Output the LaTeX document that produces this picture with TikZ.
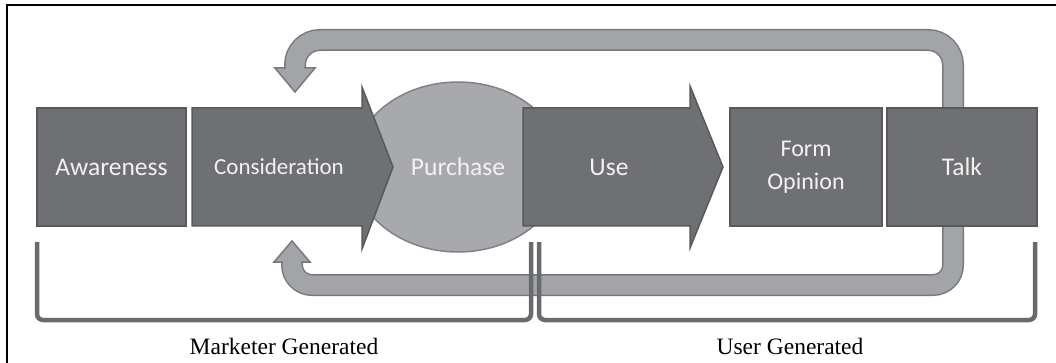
\documentclass[tikz,border=0pt]{standalone}
\usepackage{fontspec}
\setmainfont{Liberation Serif}
\newfontfamily\boxfont{Carlito}
\usetikzlibrary{calc}
\definecolor{boxgray}{RGB}{111,112,115}
\definecolor{boxedge}{RGB}{88,89,91}
\definecolor{purfill}{RGB}{167,169,172}
\definecolor{puredge}{RGB}{128,130,133}
\definecolor{bandfill}{RGB}{163,164,167}
\definecolor{bandedge}{RGB}{120,121,124}
\definecolor{brackgray}{RGB}{105,106,109}
\definecolor{txtlight}{RGB}{242,242,242}
\tikzset{
  stagebox/.style={rectangle, fill=boxgray, draw=boxedge, line width=1.5pt,
    minimum height=118pt, inner sep=0pt},
  stagetext/.style={text=txtlight, font=\boxfont\fontsize{25.5}{33}\selectfont, align=center, inner sep=0pt},
  arrowshape/.style={fill=boxgray, draw=boxedge, line width=1.5pt, line join=miter},
  band/.style={draw=bandedge, line width=1.5pt, double=bandfill, double distance=19pt},
  bandhead/.style={fill=bandfill, draw=bandedge, line width=1.5pt, line join=miter},
  brack/.style={draw=brackgray, line width=4.5pt, rounded corners=6pt},
  grouplabel/.style={font=\fontsize{23.5}{28}\selectfont, inner sep=0pt}
}
\begin{document}
\begin{tikzpicture}[x=1pt, y=-1pt]
\useasboundingbox (0,0) rectangle (1056,363);
% frame
\draw[line width=1.5pt] (7,363) -- (7,5) -- (1056,5);

% named anchor coordinates for the feedback connectors
\coordinate (topstart) at (953,115);
\coordinate (toptip) at (295,92);
\coordinate (botstart) at (953,220);
\coordinate (bottip) at (292,241);

% feedback band: top
\draw[band, rounded corners=25pt] (topstart) -- (953,40) -- (295,40) -- (295,70);
\draw[bandhead] (275,68) -- (315,68) -- (toptip) -- cycle;
\fill[bandfill] (286,64) rectangle (304,70);
% feedback band: bottom
\draw[band, rounded corners=20pt] (botstart) -- (953,285) -- (292,285) -- (292,260);
\draw[bandhead] (274,262) -- (310,262) -- (bottip) -- cycle;
\fill[bandfill] (283,260) rectangle (301,266);

% purchase ellipse
\draw[fill=purfill, draw=puredge, line width=1.5pt] (458,167) ellipse [x radius=105pt, y radius=85pt];
\node[stagetext] (purchase) at (458,167) {Purchase};

% awareness
\node[stagebox, minimum width=149pt] (aware) at (111.5,167) {};
\node[stagetext] at (aware.center) {Awareness};

% consideration arrow
\draw[arrowshape] (192,108) -- (362,108) -- (362,87) -- (393,167) -- (362,249) -- (362,226) -- (192,226) -- cycle;
\node[stagetext, font=\boxfont\fontsize{23}{26}\selectfont] (cons) at (279,167) {Consideration};

% use arrow
\draw[arrowshape] (523,108) -- (690,108) -- (690,86) -- (723,167) -- (690,248) -- (690,226) -- (523,226) -- cycle;
\node[stagetext] (use) at (609,167) {Use};

% form opinion
\node[stagebox, minimum width=152pt] (form) at (806,167) {};
\node[stagetext, font=\boxfont\fontsize{24}{33}\selectfont] at (form.center) {Form\\Opinion};

% talk
\node[stagebox, minimum width=150pt] (talk) at (962,167) {};
\node[stagetext] at (talk.center) {Talk};

% brackets
\draw[brack] (37,242) -- (37,320) -- (531,320) -- (531,242);
\draw[brack] (539,242) -- (539,320) -- (1035,320) -- (1035,242);
\node[grouplabel] (mkt) at (284,346) {Marketer Generated};
\node[grouplabel] (usr) at (790,346) {User Generated};
\end{tikzpicture}
\end{document}
